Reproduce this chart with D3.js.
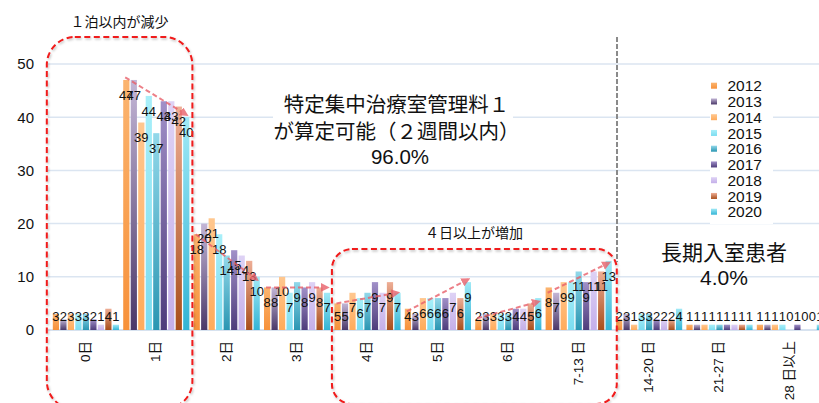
<!DOCTYPE html>
<html>
<head>
<meta charset="utf-8">
<script src="https://cdn.jsdelivr.net/npm/d3@7"></script>
<style>
  body { margin: 0; background: #fff; }
  svg { display: block; }
  text { font-family: 'Liberation Sans', 'Noto Sans CJK JP', sans-serif; fill: #111; }
</style>
</head>
<body>
<svg id="chart" width="819" height="403"></svg>
<script>
// Length of ICU stay (days) — share of patients (%) per year
const categories = ["0日", "1日", "2日", "3日", "4日", "5日", "6日", "7-13 日", "14-20 日", "21-27 日", "28 日以上"];
const years = ["2012", "2013", "2014", "2015", "2016", "2017", "2018", "2019", "2020"];

// one array per stay length, values for 2012 … 2020
const stay0  = [3, 2, 3, 3, 3, 2, 1, 4, 1];
const stay1  = [47, 47, 39, 44, 37, 43, 43, 42, 40];
const stay2  = [18, 20, 21, 18, 14, 15, 14, 13, 10];
const stay3  = [8, 8, 10, 7, 9, 8, 9, 8, 7];
const stay4  = [5, 5, 7, 6, 7, 9, 7, 9, 7];
const stay5  = [4, 3, 6, 6, 6, 6, 7, 6, 9];
const stay6  = [2, 3, 3, 3, 3, 4, 4, 5, 6];
const stay7to13  = [8, 7, 9, 9, 11, 9, 11, 11, 13];
const stay14to20 = [2, 3, 1, 3, 3, 2, 2, 2, 4];
const stay21to27 = [1, 1, 1, 1, 1, 1, 1, 1, 1];
const stay28plus = [1, 1, 1, 1, 0, 1, 0, 0, 1];
const rows = [stay0, stay1, stay2, stay3, stay4, stay5, stay6, stay7to13, stay14to20, stay21to27, stay28plus];

const yTicks = [0, 10, 20, 30, 40, 50];

// trend arrows: category, start value, end value
const trendCats  = ["1日", "2日", "3日", "4日", "5日", "6日", "7-13 日"];
const trendFrom  = [47.5, 18, 8, 5, 3.5, 2.2, 7];
const trendTo    = [40.5, 9.5, 8, 7, 9.5, 5.3, 12.6];

// bar fill gradients (top, bottom) per year
const colorTop    = ["#fbb46f", "#c3b6d6", "#ffc78f", "#a9eff9", "#92d8ea", "#a190c8", "#ded2f5", "#eeae96", "#a0e9f6"];
const colorBottom = ["#f7913a", "#4a3869", "#ffab5b", "#7bdcf0", "#2a96b2", "#4e3c7b", "#c4afe9", "#a84e1b", "#33b4d5"];

const svg = d3.select("#chart");
const defs = svg.append("defs");

years.forEach((yr, i) => {
  const g = defs.append("linearGradient").attr("id", "grad" + yr)
    .attr("x1", 0).attr("y1", 0).attr("x2", 0).attr("y2", 1);
  g.append("stop").attr("offset", "0%").attr("stop-color", colorTop[i]);
  g.append("stop").attr("offset", "100%").attr("stop-color", colorBottom[i]);
});

defs.append("marker").attr("id", "arrowHead")
  .attr("viewBox", "0 0 10 10").attr("refX", 7).attr("refY", 5)
  .attr("markerWidth", 4.5).attr("markerHeight", 4.5).attr("orient", "auto")
  .append("path").attr("d", "M0,0L10,5L0,10z").attr("fill", "#e8606a");

const shadow = defs.append("filter").attr("id", "soft").attr("x", "-10%").attr("y", "-10%").attr("width", "120%").attr("height", "120%");
shadow.append("feDropShadow").attr("dx", 1).attr("dy", 1.5).attr("stdDeviation", 1.2)
  .attr("flood-color", "#000").attr("flood-opacity", 0.25);

// scales
const x = d3.scaleBand().domain(categories).range([50.7, 825.1]).paddingInner(0.06).paddingOuter(0.03);
const xi = d3.scaleBand().domain(years).range([0, x.bandwidth()]).paddingInner(0.17);
const y = d3.scaleLinear().domain([0, 50]).range([330, 64]);

// gridlines
svg.append("g").selectAll("line").data(yTicks).join("line")
  .attr("x1", 48).attr("x2", 819)
  .attr("y1", d => y(d)).attr("y2", d => y(d))
  .attr("stroke", "#dbe5f1").attr("stroke-width", 1.5);

// y axis labels
const yAxis = svg.append("g").attr("transform", "translate(34,0)")
  .call(d3.axisLeft(y).tickValues(yTicks).tickSize(0).tickPadding(0));
yAxis.select(".domain").remove();
yAxis.selectAll("text").style("font-size", "15px").attr("fill", "#222")
  .style("font-family", "'Liberation Sans', sans-serif");

// x axis labels (rotated)
const xAxis = svg.append("g").attr("transform", `translate(-1,${y(0)})`)
  .call(d3.axisBottom(x).tickSize(0).tickPadding(0));
xAxis.select(".domain").remove();
xAxis.selectAll("text")
  .attr("transform", "rotate(-90)")
  .attr("x", -11).attr("y", 0).attr("dy", "0.36em")
  .attr("text-anchor", "end")
  .style("font-size", "13.5px").attr("fill", "#111");

// white boxes behind text blocks
svg.append("rect").attr("x", 273).attr("y", 86).attr("width", 240).attr("height", 82).attr("fill", "#fff");
svg.append("rect").attr("x", 710).attr("y", 76).attr("width", 63).attr("height", 148).attr("fill", "#fff");

// baseline
svg.append("line").attr("x1", 48).attr("x2", 819).attr("y1", y(0)).attr("y2", y(0))
  .attr("stroke", "#d3dfee").attr("stroke-width", 1.5);

// bars
const groups = svg.append("g").selectAll("g").data(categories).join("g")
  .attr("transform", d => `translate(${x(d)},0)`);

groups.selectAll("rect")
  .data((c, ci) => rows[ci].map((v, i) => ({ year: years[i], v })))
  .join("rect")
  .attr("x", d => xi(d.year))
  .attr("y", d => y(d.v))
  .attr("width", xi.bandwidth())
  .attr("height", d => y(0) - y(d.v))
  .attr("fill", d => `url(#grad${d.year})`);

// value labels
groups.selectAll("text.val")
  .data((c, ci) => rows[ci].map((v, i) => ({ year: years[i], v })))
  .join("text").attr("class", "val")
  .attr("x", d => xi(d.year) + xi.bandwidth() / 2)
  .attr("y", d => Math.min(y(d.v) + 15, 316))
  .attr("dy", "0.36em")
  .attr("text-anchor", "middle")
  .style("font-size", "13px")
  .text(d => d.v);

// trend arrows
trendCats.forEach((c, i) => {
  const x0 = x(c) + xi(years[0]) + 2;
  const x1 = x(c) + xi(years[years.length - 1]) + xi.bandwidth() / 2;
  svg.append("line")
    .attr("x1", x0).attr("y1", y(trendFrom[i]))
    .attr("x2", x1).attr("y2", y(trendTo[i]))
    .attr("stroke", "#e8606a").attr("stroke-width", 2).attr("stroke-dasharray", "5,3")
    .attr("opacity", 0.8)
    .attr("marker-end", "url(#arrowHead)");
});

// highlight frames
svg.append("rect")
  .attr("x", x("0日") - 6).attr("y", 37)
  .attr("width", x("1日") + x.bandwidth() + 3 - (x("0日") - 6)).attr("height", 372)
  .attr("rx", 28).attr("ry", 28)
  .attr("fill", "none").attr("stroke", "#f01a1a").attr("stroke-width", 2)
  .attr("stroke-dasharray", "6,3.5").attr("filter", "url(#soft)");

svg.append("rect")
  .attr("x", x("4日") - 2.5).attr("y", 249)
  .attr("width", x("7-13 日") + x.bandwidth() + 5 - (x("4日") - 2.5)).attr("height", 155)
  .attr("rx", 20).attr("ry", 20)
  .attr("fill", "none").attr("stroke", "#f01a1a").attr("stroke-width", 2)
  .attr("stroke-dasharray", "6,3.5").attr("filter", "url(#soft)");

// divider between ≤2 weeks and long stays
svg.append("line")
  .attr("x1", x("14-20 日") + 1).attr("x2", x("14-20 日") + 1)
  .attr("y1", 37).attr("y2", 262)
  .attr("stroke", "#8a8a8a").attr("stroke-width", 2).attr("stroke-dasharray", "5,2");

// annotations
svg.append("text").attr("x", 119.5).attr("y", 22).attr("dy", "0.36em")
  .attr("text-anchor", "middle").style("font-size", "14px").text("１泊以内が減少");

svg.append("text").attr("x", 474).attr("y", 233).attr("dy", "0.36em")
  .attr("text-anchor", "middle").style("font-size", "14px").text("４日以上が増加");

const mainNote = ["特定集中治療室管理料１", "が算定可能（２週間以内）", "96.0%"];
const mainNoteY = [105, 132, 157];
svg.append("g").selectAll("text").data(mainNote).join("text")
  .attr("x", (d, i) => i === 2 ? 400 : 396.5)
  .attr("y", (d, i) => mainNoteY[i]).attr("dy", "0.36em")
  .attr("text-anchor", "middle").style("font-size", "20.5px")
  .text(d => d);

const longNote = ["長期入室患者", "4.0%"];
const longNoteY = [252, 277];
svg.append("g").selectAll("text").data(longNote).join("text")
  .attr("x", 724).attr("y", (d, i) => longNoteY[i]).attr("dy", "0.36em")
  .attr("text-anchor", "middle").style("font-size", "21px")
  .text(d => d);

// legend
const legend = svg.append("g").selectAll("g").data(years).join("g")
  .attr("transform", (d, i) => `translate(711,${85.7 + i * 15.75})`);
legend.append("rect").attr("x", 0).attr("y", -3).attr("width", 6).attr("height", 6)
  .attr("fill", d => `url(#grad${d})`);
legend.append("text").attr("x", 16.5).attr("y", 0).attr("dy", "0.36em")
  .style("font-size", "15.5px").text(d => d);
</script>
</body>
</html>
